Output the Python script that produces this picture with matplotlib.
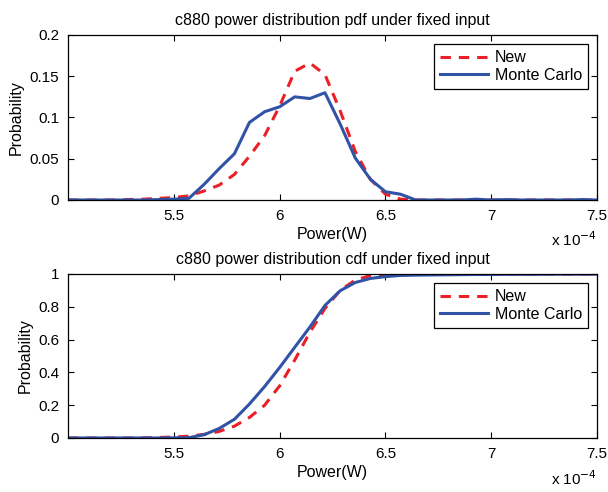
import matplotlib
matplotlib.use("Agg")
import matplotlib.pyplot as plt
from matplotlib.ticker import FuncFormatter

plt.rcParams['font.family'] = ['Liberation Sans', 'DejaVu Sans']

# power bins (W)
power = [5.000e-4, 5.071e-4, 5.143e-4, 5.214e-4, 5.286e-4, 5.357e-4, 5.429e-4, 5.500e-4,
         5.571e-4, 5.643e-4, 5.714e-4, 5.786e-4, 5.857e-4, 5.929e-4, 6.000e-4, 6.071e-4,
         6.143e-4, 6.214e-4, 6.286e-4, 6.357e-4, 6.429e-4, 6.500e-4, 6.571e-4, 6.643e-4,
         6.714e-4, 6.786e-4, 6.857e-4, 6.929e-4, 7.000e-4, 7.071e-4, 7.143e-4, 7.214e-4,
         7.286e-4, 7.357e-4, 7.429e-4, 7.500e-4]

new_pdf = [0, 0, 0, 0, 0.0005, 0.001, 0.002, 0.003,
           0.005, 0.011, 0.018, 0.031, 0.053, 0.078, 0.114, 0.156,
           0.166, 0.152, 0.108, 0.059, 0.025, 0.007, 0.001, 0,
           0, 0, 0, 0, 0, 0, 0, 0,
           0, 0, 0, 0]
mc_pdf = [0, 0, 0, 0, 0, 0, 0.0005, 0.001,
          0.002, 0.019, 0.038, 0.056, 0.094, 0.107, 0.113, 0.125,
          0.123, 0.130, 0.092, 0.051, 0.025, 0.010, 0.007, 0,
          0, 0, 0, 0.001, 0, 0.0005, 0, 0,
          0, 0, 0.0005, 0]

new_cdf = [0, 0, 0, 0, 0, 0.001, 0.003, 0.006,
           0.011, 0.022, 0.040, 0.072, 0.125, 0.200, 0.318, 0.475,
           0.645, 0.790, 0.900, 0.963, 0.990, 0.999, 1.0, 1.0,
           1.0, 1.0, 1.0, 1.0, 1.0, 1.0, 1.0, 1.0,
           1.0, 1.0, 1.0, 1.0]
mc_cdf = [0, 0, 0, 0, 0, 0, 0, 0.001,
          0.002, 0.020, 0.058, 0.114, 0.207, 0.314, 0.430, 0.553,
          0.677, 0.808, 0.898, 0.948, 0.973, 0.984, 0.991, 0.993,
          0.994, 0.995, 0.996, 0.997, 0.997, 0.998, 0.998, 0.998,
          0.999, 0.999, 0.999, 0.999]

xticks = [5.5e-4, 6.0e-4, 6.5e-4, 7.0e-4, 7.5e-4]

fig = plt.figure(figsize=(6.08, 4.92), dpi=100)
ax1 = fig.add_axes([0.112, 0.5935, 0.870, 0.3354])
ax2 = fig.add_axes([0.112, 0.1098, 0.870, 0.3333])

panels = [
    (ax1, new_pdf, mc_pdf, 'c880 power distribution pdf under fixed input',
     [0, 0.05, 0.1, 0.15, 0.2], 0.2, -0.24),
    (ax2, new_cdf, mc_cdf, 'c880 power distribution cdf under fixed input',
     [0, 0.2, 0.4, 0.6, 0.8, 1], 1.0, -0.245),
]

for ax, new, mc, title, yticks, ytop, ypos in panels:
    ax.plot(power, new, color='#ec1f27', linestyle='--', linewidth=2.2,
            dashes=(3.4, 2.6), label='New')
    ax.plot(power, mc, color='#3053a6', linewidth=2.2, label='Monte Carlo')
    ax.set_xlim(5.0e-4, 7.5e-4)
    ax.set_ylim(0, ytop)
    ax.set_xticks(xticks)
    ax.set_yticks(yticks)
    ax.xaxis.set_major_formatter(FuncFormatter(lambda v, p: '%g' % round(v * 1e4, 3)))
    ax.yaxis.set_major_formatter(FuncFormatter(lambda v, p: '%g' % round(v, 3)))
    ax.tick_params(direction='in', top=True, right=True, length=4,
                   width=0.8, labelsize=11, pad=6.5)
    for s in ax.spines.values():
        s.set_linewidth(0.9)
    ax.set_title(title, fontsize=11.5, pad=7.5)
    ax.set_xlabel('Power(W)', fontsize=11.5, labelpad=3)
    ax.set_ylabel('Probability', fontsize=11.5, labelpad=4)
    ax.text(1.0, ypos, r'x 10$^{-4}$', transform=ax.transAxes,
            ha='right', va='center', fontsize=11)
    leg = ax.legend(loc='upper right', fontsize=11.5, fancybox=False,
                    framealpha=1, edgecolor='black', borderaxespad=0.55,
                    handlelength=3.0, labelspacing=0.15, borderpad=0.4,
                    handletextpad=0.4)
    leg.get_frame().set_linewidth(0.9)

fig.savefig('out.png', dpi=100, facecolor='white')
